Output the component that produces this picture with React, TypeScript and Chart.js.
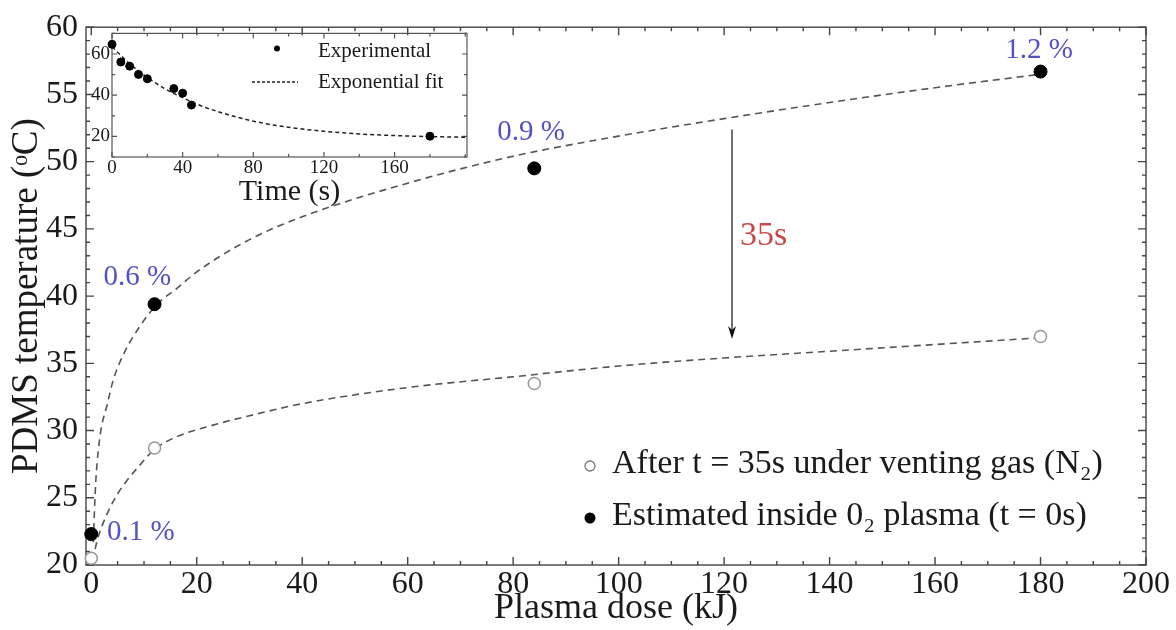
import React, { useEffect, useRef } from "react";
import { Chart, registerables } from "chart.js";

Chart.register(...registerables);

// ---------- main chart data ----------
const doseKJ = [0, 12, 84, 180];
const tempPlasma = [22.3, 39.4, 49.5, 56.7];
const tempAfter35s = [20.5, 28.7, 33.5, 37.0];
const oxidationLabels = ["0.1 %", "0.6 %", "0.9 %", "1.2 %"];

// fit curves
const fitPlasmaX = [0.4, 0.6, 0.9, 1.7, 3, 4.2, 6.4, 9.3, 12.5, 16.3, 20, 30, 40, 60, 80, 100, 120, 140, 160, 180];
const fitPlasmaY = [21.7, 24, 26.5, 29.7, 31.9, 33.8, 35.9, 37.8, 39.4, 40.6, 41.8, 44.2, 45.9, 48.4, 50.4, 51.9, 53.2, 54.4, 55.5, 56.5];
const fitAfterX = [0.3, 1.1, 3, 5, 6.8, 8.7, 12, 16, 24, 30, 40, 60, 80, 100, 120, 140, 160, 180];
const fitAfterY = [20.3, 21.8, 23.8, 25.3, 26.3, 27.2, 28.6, 29.5, 30.5, 31.1, 32.0, 33.2, 34.0, 34.8, 35.4, 35.9, 36.4, 36.9];

const xTicks = [0, 20, 40, 60, 80, 100, 120, 140, 160, 180, 200];
const yTicks = [20, 25, 30, 35, 40, 45, 50, 55, 60];

// ---------- inset data ----------
const insetTime = [0, 5, 10, 15, 20, 35, 40, 45, 180];
const insetTemp = [64.7, 56.1, 54.1, 50.1, 48.0, 43.2, 41.0, 35.2, 20.1];
const insetFitTime = [0, 10, 20, 30, 40, 50, 60, 80, 100, 120, 140, 160, 180, 200];
const insetFitTemp = [63.5, 55.3, 48.6, 43.1, 38.8, 35.0, 32.0, 27.4, 24.4, 22.5, 21.2, 20.4, 19.9, 19.6];
const insetXTicks = [0, 40, 80, 120, 160];
const insetYTicks = [20, 40, 60];

// ---------- annotation anchors (data coords) ----------
const labelAnchors: [number, number][] = [
  [3.0, 22.4],
  [2.3, 41.4],
  [77, 52.2],
  [173.3, 58.3],
];
const arrowX = 121.5;
const arrowFrom = 52.4;
const arrowTo = 36.8;
const arrowLabel = "35s";
const arrowLabelPos: [number, number] = [123, 44.5];

const FONT = '"Liberation Serif", "DejaVu Serif", serif';
const BLUE = "#5252c4";
const RED = "#c84848";
const INK = "#1a1a1a";

function pts(xs: number[], ys: number[]) {
  return xs.map((x, i) => ({ x, y: ys[i] }));
}

function range(a: number, b: number, s: number) {
  const out: number[] = [];
  for (let v = a; v <= b + 1e-9; v += s) out.push(v);
  return out;
}

function framePlugin(id: string, cfg: {
  xMajor: number[]; xMinor: number[]; yMajor: number[]; yMinor: number[];
  major: number; minor: number; lw: number; color: string;
}) {
  return {
    id,
    beforeDatasetsDraw(chart: any) {
      const { ctx, chartArea: a, scales } = chart;
      const x = scales.x, y = scales.y;
      ctx.save();
      ctx.strokeStyle = cfg.color;
      ctx.lineWidth = cfg.lw;
      ctx.beginPath();
      const tx = (v: number, len: number) => {
        const p = x.getPixelForValue(v);
        ctx.moveTo(p, a.bottom); ctx.lineTo(p, a.bottom - len);
        ctx.moveTo(p, a.top); ctx.lineTo(p, a.top + len);
      };
      const ty = (v: number, len: number) => {
        const p = y.getPixelForValue(v);
        ctx.moveTo(a.left, p); ctx.lineTo(a.left + len, p);
        ctx.moveTo(a.right, p); ctx.lineTo(a.right - len, p);
      };
      cfg.xMinor.forEach((v) => tx(v, cfg.minor));
      cfg.xMajor.forEach((v) => tx(v, cfg.major));
      cfg.yMinor.forEach((v) => ty(v, cfg.minor));
      cfg.yMajor.forEach((v) => ty(v, cfg.major));
      ctx.stroke();
      ctx.strokeRect(a.left, a.top, a.right - a.left, a.bottom - a.top);
      ctx.restore();
    },
  };
}

const mainAnnotations = {
  id: "mainAnnotations",
  afterDatasetsDraw(chart: any) {
    const { ctx, scales } = chart;
    const x = scales.x, y = scales.y;
    ctx.save();
    // oxidation labels
    ctx.font = `29px ${FONT}`;
    ctx.fillStyle = BLUE;
    ctx.textAlign = "left";
    ctx.textBaseline = "middle";
    oxidationLabels.forEach((t, i) => {
      const [lx, ly] = labelAnchors[i];
      ctx.fillText(t, x.getPixelForValue(lx), y.getPixelForValue(ly));
    });
    // arrow
    const ax = x.getPixelForValue(arrowX);
    const y1 = y.getPixelForValue(arrowFrom);
    const y2 = y.getPixelForValue(arrowTo);
    ctx.strokeStyle = "#111";
    ctx.lineWidth = 1.2;
    ctx.beginPath();
    ctx.moveTo(ax, y1);
    ctx.lineTo(ax, y2 - 6);
    ctx.stroke();
    ctx.fillStyle = "#111";
    ctx.beginPath();
    ctx.moveTo(ax, y2);
    ctx.lineTo(ax - 4, y2 - 13);
    ctx.lineTo(ax, y2 - 9);
    ctx.lineTo(ax + 4, y2 - 13);
    ctx.closePath();
    ctx.fill();
    ctx.font = `34px ${FONT}`;
    ctx.fillStyle = RED;
    ctx.fillText(arrowLabel, x.getPixelForValue(arrowLabelPos[0]), y.getPixelForValue(arrowLabelPos[1]));
    // legend
    ctx.font = `34px ${FONT}`;
    ctx.fillStyle = INK;
    ctx.fillText("After t = 35s under venting gas (N\u2082)", 612, 464);
    ctx.fillText("Estimated inside 0\u2082 plasma (t = 0s)", 612, 516);
    ctx.beginPath();
    ctx.arc(590, 466, 5, 0, Math.PI * 2);
    ctx.fillStyle = "#fff";
    ctx.fill();
    ctx.strokeStyle = "#777";
    ctx.lineWidth = 1.3;
    ctx.stroke();
    ctx.beginPath();
    ctx.arc(590, 518, 5.5, 0, Math.PI * 2);
    ctx.fillStyle = "#000";
    ctx.fill();
    ctx.restore();
  },
};

const insetLegend = {
  id: "insetLegend",
  afterDatasetsDraw(chart: any) {
    const { ctx } = chart;
    ctx.save();
    ctx.font = `21px ${FONT}`;
    ctx.fillStyle = INK;
    ctx.textAlign = "left";
    ctx.textBaseline = "middle";
    ctx.fillText("Experimental", 258, 31);
    ctx.fillText("Exponential fit", 258, 62);
    ctx.beginPath();
    ctx.arc(217, 28.5, 3, 0, Math.PI * 2);
    ctx.fillStyle = "#000";
    ctx.fill();
    ctx.strokeStyle = "#222";
    ctx.lineWidth = 1.4;
    ctx.setLineDash([3, 2]);
    ctx.beginPath();
    ctx.moveTo(192, 62);
    ctx.lineTo(238, 62);
    ctx.stroke();
    ctx.restore();
  },
};

export default function App() {
  const mainRef = useRef<HTMLCanvasElement>(null);
  const insetRef = useRef<HTMLCanvasElement>(null);

  useEffect(() => {
    Chart.defaults.font.family = FONT;
    const main = new Chart(mainRef.current as HTMLCanvasElement, {
      type: "scatter",
      data: {
        datasets: [
          {
            label: "Estimated inside 0\u2082 plasma (t = 0s)",
            data: pts(doseKJ, tempPlasma),
            pointRadius: 6.5,
            pointBackgroundColor: "#000",
            pointBorderColor: "#000",
            showLine: false,
            clip: false,
            order: 0,
          } as any,
          {
            label: "After t = 35s under venting gas (N\u2082)",
            data: pts(doseKJ, tempAfter35s),
            pointRadius: 6,
            pointBackgroundColor: "#fff",
            pointBorderColor: "#999",
            pointBorderWidth: 1.5,
            showLine: false,
            clip: false,
            order: 0,
          } as any,
          {
            label: "fit plasma",
            data: pts(fitPlasmaX, fitPlasmaY),
            showLine: true,
            pointRadius: 0,
            borderColor: "#555",
            borderWidth: 1.6,
            borderDash: [7, 5],
            cubicInterpolationMode: "monotone",
            order: 1,
          } as any,
          {
            label: "fit after",
            data: pts(fitAfterX, fitAfterY),
            showLine: true,
            pointRadius: 0,
            borderColor: "#555",
            borderWidth: 1.6,
            borderDash: [7, 5],
            cubicInterpolationMode: "monotone",
            order: 1,
          } as any,
        ],
      },
      options: {
        animation: false,
        responsive: false,
        maintainAspectRatio: false,
        events: [],
        layout: { padding: { left: 0, right: 30, top: 22, bottom: 0 } },
        plugins: { legend: { display: false }, tooltip: { enabled: false } },
        scales: {
          x: {
            type: "linear",
            min: -1,
            max: 200,
            afterBuildTicks: (s: any) => { s.ticks = xTicks.map((v) => ({ value: v })); },
            afterFit: (s: any) => { s.height = 65; },
            grid: { display: false, drawTicks: false },
            border: { display: false },
            ticks: { font: { size: 32, family: FONT }, color: INK, padding: 0, maxRotation: 0, autoSkip: false },
            title: { display: true, text: "Plasma dose (kJ)", font: { size: 36, family: FONT }, color: INK, padding: { top: 0, bottom: 0 } },
          },
          y: {
            type: "linear",
            min: 20,
            max: 60,
            afterBuildTicks: (s: any) => { s.ticks = yTicks.map((v) => ({ value: v })); },
            afterFit: (s: any) => { s.width = 86; },
            grid: { display: false, drawTicks: false },
            border: { display: false },
            ticks: { font: { size: 32, family: FONT }, color: INK, padding: 8, autoSkip: false },
            title: { display: true, text: "PDMS temperature (\u1D52C)", font: { size: 37, family: FONT }, color: INK, padding: { top: 5, bottom: 0 } },
          },
        },
      } as any,
      plugins: [
        framePlugin("mainFrame", {
          xMajor: xTicks, xMinor: range(0, 200, 5), yMajor: yTicks, yMinor: range(20, 60, 1),
          major: 8, minor: 4, lw: 1.4, color: "#444",
        }),
        mainAnnotations,
      ],
    });

    const inset = new Chart(insetRef.current as HTMLCanvasElement, {
      type: "scatter",
      data: {
        datasets: [
          {
            label: "Experimental",
            data: pts(insetTime, insetTemp),
            pointRadius: 4,
            pointBackgroundColor: "#000",
            pointBorderColor: "#000",
            showLine: false,
            clip: false,
            order: 0,
          } as any,
          {
            label: "Exponential fit",
            data: pts(insetFitTime, insetFitTemp),
            showLine: true,
            pointRadius: 0,
            borderColor: "#222",
            borderWidth: 1.5,
            borderDash: [4, 3],
            cubicInterpolationMode: "monotone",
            order: 1,
          } as any,
        ],
      },
      options: {
        animation: false,
        responsive: false,
        maintainAspectRatio: false,
        events: [],
        layout: { padding: { left: 0, right: 13, top: 11, bottom: 0 } },
        plugins: { legend: { display: false }, tooltip: { enabled: false } },
        scales: {
          x: {
            type: "linear",
            min: 0,
            max: 201,
            afterBuildTicks: (s: any) => { s.ticks = insetXTicks.map((v) => ({ value: v })); },
            afterFit: (s: any) => { s.height = 53; },
            grid: { display: false, drawTicks: false },
            border: { display: false },
            ticks: { font: { size: 19, family: FONT }, color: INK, padding: 0, maxRotation: 0, autoSkip: false },
            title: { display: true, text: "Time (s)", font: { size: 30, family: FONT }, color: INK, padding: { top: 0, bottom: 0 } },
          },
          y: {
            type: "linear",
            min: 10,
            max: 70,
            afterBuildTicks: (s: any) => { s.ticks = insetYTicks.map((v) => ({ value: v })); },
            afterFit: (s: any) => { s.width = 52; },
            grid: { display: false, drawTicks: false },
            border: { display: false },
            ticks: { font: { size: 19, family: FONT }, color: INK, padding: 2, autoSkip: false },
          },
        },
      } as any,
      plugins: [
        framePlugin("insetFrame", {
          xMajor: insetXTicks, xMinor: range(0, 200, 20), yMajor: insetYTicks, yMinor: range(10, 70, 10),
          major: 5, minor: 3, lw: 1.2, color: "#555",
        }),
        insetLegend,
      ],
    });

    return () => {
      main.destroy();
      inset.destroy();
    };
  }, []);

  return (
    <div style={{ position: "absolute", left: 0, top: 0, width: 1176, height: 630, background: "#fff", overflow: "hidden" }}>
      <canvas ref={mainRef} width={1176} height={630} style={{ position: "absolute", left: 0, top: 0 }} />
      <canvas ref={insetRef} width={420} height={190} style={{ position: "absolute", left: 60, top: 20 }} />
    </div>
  );
}
